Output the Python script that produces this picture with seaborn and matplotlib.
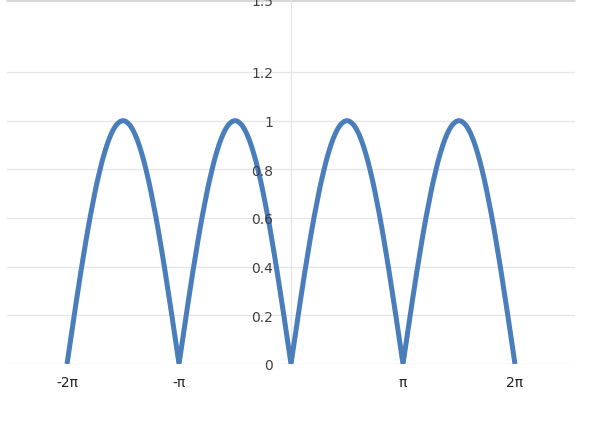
import numpy as np
import pandas as pd
import matplotlib
matplotlib.use("Agg")
import matplotlib.pyplot as plt
import seaborn as sns

# x positions in steps of pi/48, from -2*pi to 2*pi
x_steps = list(range(-96, 97))
# |sin x|, one row per arch
y_values = [
    0.000, 0.065, 0.131, 0.195, 0.259, 0.321, 0.383, 0.442, 0.500, 0.556, 0.609, 0.659,
    0.707, 0.752, 0.793, 0.832, 0.866, 0.897, 0.924, 0.947, 0.966, 0.981, 0.991, 0.998,
    1.000, 0.998, 0.991, 0.981, 0.966, 0.947, 0.924, 0.897, 0.866, 0.832, 0.793, 0.752,
    0.707, 0.659, 0.609, 0.556, 0.500, 0.442, 0.383, 0.321, 0.259, 0.195, 0.131, 0.065,
    0.000, 0.065, 0.131, 0.195, 0.259, 0.321, 0.383, 0.442, 0.500, 0.556, 0.609, 0.659,
    0.707, 0.752, 0.793, 0.832, 0.866, 0.897, 0.924, 0.947, 0.966, 0.981, 0.991, 0.998,
    1.000, 0.998, 0.991, 0.981, 0.966, 0.947, 0.924, 0.897, 0.866, 0.832, 0.793, 0.752,
    0.707, 0.659, 0.609, 0.556, 0.500, 0.442, 0.383, 0.321, 0.259, 0.195, 0.131, 0.065,
    0.000, 0.065, 0.131, 0.195, 0.259, 0.321, 0.383, 0.442, 0.500, 0.556, 0.609, 0.659,
    0.707, 0.752, 0.793, 0.832, 0.866, 0.897, 0.924, 0.947, 0.966, 0.981, 0.991, 0.998,
    1.000, 0.998, 0.991, 0.981, 0.966, 0.947, 0.924, 0.897, 0.866, 0.832, 0.793, 0.752,
    0.707, 0.659, 0.609, 0.556, 0.500, 0.442, 0.383, 0.321, 0.259, 0.195, 0.131, 0.065,
    0.000, 0.065, 0.131, 0.195, 0.259, 0.321, 0.383, 0.442, 0.500, 0.556, 0.609, 0.659,
    0.707, 0.752, 0.793, 0.832, 0.866, 0.897, 0.924, 0.947, 0.966, 0.981, 0.991, 0.998,
    1.000, 0.998, 0.991, 0.981, 0.966, 0.947, 0.924, 0.897, 0.866, 0.832, 0.793, 0.752,
    0.707, 0.659, 0.609, 0.556, 0.500, 0.442, 0.383, 0.321, 0.259, 0.195, 0.131, 0.065,
    0.000,
]
x_tick_values = [-2 * np.pi, -np.pi, np.pi, 2 * np.pi]
x_tick_labels = ["-2π", "-π", "π", "2π"]
y_tick_values = [0, 0.2, 0.4, 0.6, 0.8, 1.0, 1.2, 1.5]
y_tick_labels = ["0", "0.2", "0.4", "0.6", "0.8", "1", "1.2", "1.5"]

df = pd.DataFrame({"x": np.array(x_steps) * np.pi / 48, "y": y_values})

sns.set_theme(style="white")
plt.rcParams["font.family"] = ["DejaVu Sans"]

fig = plt.figure(figsize=(5.98, 4.31), dpi=100)
ax = fig.add_axes([7 / 598, 66 / 431, 568 / 598, 365 / 431])

sns.lineplot(data=df, x="x", y="y", ax=ax, color="#4a7dbb", linewidth=3.6,
             estimator=None, sort=False)
ax.lines[0].set_solid_capstyle("butt")
ax.lines[0].set_solid_joinstyle("round")

ax.set_xlim(-2.536 * np.pi, 2.536 * np.pi)
ax.set_ylim(0, 1.49)

# horizontal gridlines
for v in y_tick_values[:-1]:
    ax.axhline(v, color="#e6e6e6", linewidth=0.9, zorder=0)
ax.axhline(1.49, color="#cfcfcf", linewidth=1.2, zorder=0, clip_on=False)

for s in ["top", "right", "bottom"]:
    ax.spines[s].set_visible(False)
ax.spines["left"].set_position(("data", 0))
ax.spines["left"].set_color("#e4e4e4")
ax.spines["left"].set_linewidth(0.9)
ax.spines["left"].set_zorder(0)

ax.set_axisbelow(False)  # tick labels drawn over the curve
ax.set_yticks(y_tick_values)
ax.set_yticklabels(y_tick_labels)
ax.set_xticks(x_tick_values)
ax.set_xticklabels(x_tick_labels)
ax.tick_params(axis="y", length=0, pad=13, labelsize=10, labelcolor="#404040")
ax.tick_params(axis="x", length=0, pad=8, labelsize=10, labelcolor="#202020")
ax.set_xlabel("")
ax.set_ylabel("")
for lab in ax.get_yticklabels():
    lab.set_clip_on(False)

fig.savefig("out.png", dpi=100)
